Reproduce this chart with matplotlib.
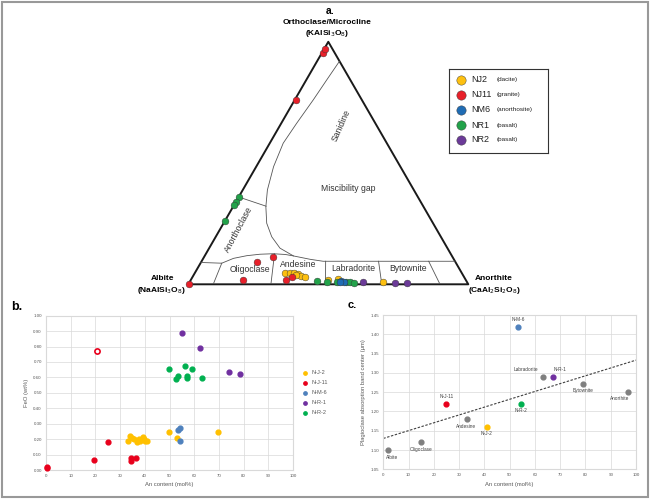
import matplotlib.pyplot as plt
import numpy as np
from matplotlib.patches import Rectangle

plt.rcParams['font.family'] = ['Liberation Sans', 'DejaVu Sans']

W, H = 650, 499

# ---- a. ternary feldspar data (An %, Or %; rest is Ab) ----
nj2_an = [32.0, 34.0, 35.5, 37.0, 38.5, 40.0, 36.5, 49.1, 52.5, 69.2]
nj2_or = [4.8, 4.8, 4.6, 4.2, 3.6, 3.0, 3.8, 1.8, 2.1, 0.8]
nj11_an = [0.2, 0.4, 0.3, 0.4, 18.5, 19.8, 24.6, 34.0, 35.5]
nj11_or = [95.5, 97.0, 76.0, 0.0, 1.8, 9.3, 11.1, 1.8, 3.0]
nm6_an = [53.9, 54.9, 53.7]
nm6_or = [1.5, 1.1, 1.1]
nr1_an = [0.0, 0.0, 0.0, 0.0, 45.4, 48.9, 52.5, 55.9, 57.2, 58.7]
nr1_or = [35.9, 34.1, 32.7, 26.2, 1.4, 1.1, 1.1, 0.8, 0.8, 0.6]
nr2_an = [62.0, 73.6, 78.0]
nr2_or = [1.1, 0.4, 0.4]

legend_names = ['NJ2', 'NJ11', 'NM6', 'NR1', 'NR2']
legend_rocks = ['(dacite)', '(granite)', '(anorthosite)', '(basalt)', '(basalt)']
tern_colors = ['#FDC010', '#E8202A', '#1F6CB4', '#22A24A', '#6B3A98']

# field boundaries (An, Or)
solvus_an = [8.0, 7.3, 6.6, 5.5, 4.8, 6.2, 8.8, 11.7, 15.4, 20.0, 25.3, 31.7, 38.4, 43.4, 90.5]
solvus_or = [92.0, 84.3, 76.0, 66.4, 58.2, 48.5, 38.9, 32.0, 25.2, 19.6, 14.9, 11.7, 10.3, 9.5, 9.5]
san_an, san_or = [0.0, 11.7], [36.0, 32.2]
ano_an = [0.0, 7.6, 10.8, 15.0, 19.4, 24.0, 28.5, 31.7]
ano_or = [9.0, 8.7, 10.7, 11.8, 12.4, 12.6, 12.3, 11.7]
dividers = [([8.9, 7.6], [0.0, 8.7]),
            ([29.5, 24.5], [0.0, 12.6]),
            ([49.0, 44.3], [0.0, 9.5]),
            ([69.1, 63.2], [0.0, 9.5]),
            ([89.9, 81.1], [0.0, 9.5])]

# ---- b. FeO vs An ----
b_names = ['N-J-2', 'N-J-11', 'N-M-6', 'N-R-1', 'N-R-2']
b_colors = ['#FFC000', '#E8001C', '#4F81BD', '#7030A0', '#00B050']
b_nj2_an = [33.2, 34.2, 35.0, 35.8, 36.7, 37.5, 38.0, 39.1, 39.6, 40.2, 41.0, 49.6, 53.1, 69.8]
b_nj2_feo = [0.19, 0.22, 0.21, 0.20, 0.18, 0.20, 0.185, 0.215, 0.20, 0.185, 0.19, 0.245, 0.205, 0.245]
b_nj11_an = [0.5, 0.6, 19.4, 25.2, 34.5, 34.6, 36.5]
b_nj11_feo = [0.02, 0.01, 0.065, 0.18, 0.075, 0.06, 0.08]
b_open_an, b_open_feo = [20.5], [0.77]
b_nm6_an = [53.4, 54.3, 54.4]
b_nm6_feo = [0.26, 0.27, 0.19]
b_nr1_an = [55.1, 62.4, 74.1, 78.4]
b_nr1_feo = [0.885, 0.79, 0.632, 0.62]
b_nr2_an = [49.7, 52.6, 53.5, 56.1, 56.9, 57.2, 59.0, 63.1]
b_nr2_feo = [0.652, 0.588, 0.607, 0.674, 0.607, 0.595, 0.655, 0.598]

# ---- c. band center vs An ----
c_ref_names = ['Albite', 'Oligoclase', 'Andesine', 'Labradorite', 'Bytownite', 'Anorthite']
c_ref_an = [2, 15, 33, 63, 79, 97]
c_ref_center = [1.10, 1.12, 1.18, 1.29, 1.27, 1.25]
c_ref_offsets = [(4, -7), (0, -7), (-1, -7), (-17, 7), (0, -6), (-9, -6)]
c_smp_names = ['N-J-11', 'N-J-2', 'N-M-6', 'N-R-2', 'N-R-1']
c_smp_an = [25, 41, 53.5, 54.5, 67]
c_smp_center = [1.22, 1.16, 1.42, 1.22, 1.29]
c_smp_colors = ['#E8001C', '#FFC000', '#4F81BD', '#00B050', '#7030A0']
c_smp_offsets = [(0, 7), (0, -7), (0, 7), (0, -7), (7, 7)]
trend_x = [0, 100]
trend_y = [1.13, 1.333]


def box(l, t, r, b):
    return [l / W, 1 - b / H, (r - l) / W, (b - t) / H]


def tern(an, orr):
    an = np.asarray(an) / 100.0
    orr = np.asarray(orr) / 100.0
    return an + orr / 2, orr * np.sqrt(3) / 2


def ftext(x, y, s, **kw):
    fig.text(x / W, 1 - y / H, s, ha='center', va='center', **kw)


fig = plt.figure(figsize=(6.5, 4.99), dpi=100)

# ---------------- a. ----------------
ax = fig.add_axes(box(188.3, 41.8, 468.3, 284.3))
ax.set_xlim(0, 1)
ax.set_ylim(0, np.sqrt(3) / 2)
ax.axis('off')
tx, ty = tern([0, 100, 0, 0], [0, 0, 100, 0])
ax.plot(tx, ty, color='#1a1a1a', lw=1.4, clip_on=False)
lc = '#555555'
for a_, o_ in [(solvus_an, solvus_or), (san_an, san_or), (ano_an, ano_or)] + dividers:
    x_, y_ = tern(a_, o_)
    ax.plot(x_, y_, color=lc, lw=0.6)

fl = dict(fontsize=6.2, color='#333333', ha='center', va='center')
ax.text(*tern(22, 65.5), 'Sanidine', rotation=66, **fl)
ax.text(*tern(6.8, 22.5), 'Anorthoclase', rotation=62, **fl)
ax.text(*tern(37.3, 39.6), 'Miscibility gap', **fl)
ax.text(*tern(19.1, 5.9), 'Oligoclase', **fl)
ax.text(*tern(35.3, 8.0), 'Andesine', **fl)
ax.text(*tern(55.6, 6.6), 'Labradorite', **fl)
ax.text(*tern(75.2, 6.4), 'Bytownite', **fl)

groups = [(nj2_an, nj2_or), (nj11_an, nj11_or), (nr1_an, nr1_or),
          (nm6_an, nm6_or), (nr2_an, nr2_or)]
gcols = [tern_colors[0], tern_colors[1], tern_colors[3], tern_colors[2], tern_colors[4]]
for (a_, o_), c in zip(groups, gcols):
    x_, y_ = tern(a_, o_)
    ax.scatter(x_, y_, s=24, color=c, edgecolors='#333333', linewidths=0.3,
               clip_on=False, zorder=3)

ftext(330, 11, 'a.', fontsize=7.5, fontweight='bold')
ftext(326.7, 22.5, 'Orthoclase/Microcline', fontsize=6, fontweight='bold')
ftext(326.7, 33.5, r'(KAlSi$_3$O$_8$)', fontsize=6, fontweight='bold')
ftext(163, 279, 'Albite', fontsize=6, fontweight='bold')
ftext(161, 290, r'(NaAlSi$_3$O$_8$)', fontsize=6, fontweight='bold')
ftext(494, 279, 'Anorthite', fontsize=6, fontweight='bold')
ftext(494, 290, r'(CaAl$_2$Si$_2$O$_8$)', fontsize=6, fontweight='bold')

# legend of a.
lg = fig.add_axes(box(449.3, 69.3, 547.7, 152.7))
lg.set_xlim(0, 98.4)
lg.set_ylim(83.4, 0)
lg.set_xticks([])
lg.set_yticks([])
for sp in lg.spines.values():
    sp.set_color('#333333')
    sp.set_linewidth(0.8)
for i, (n, r, c) in enumerate(zip(legend_names, legend_rocks, tern_colors)):
    yy = 10.7 + 15 * i
    lg.scatter([11.7], [yy], s=45, color=c, edgecolors='#333333', linewidths=0.3)
    lg.text(21.7, yy, n, fontsize=6.5, va='center', color='#222222')
    lg.text(47.4, yy, r, fontsize=4.6, va='center', color='#222222')

# ---------------- b. ----------------
gc = '#D9D9D9'
tc = '#595959'
bx = fig.add_axes(box(46, 315.7, 293, 470))
series_b = [(b_nj2_an, b_nj2_feo), (b_nj11_an, b_nj11_feo), (b_nm6_an, b_nm6_feo),
            (b_nr1_an, b_nr1_feo), (b_nr2_an, b_nr2_feo)]
for (a_, f_), n, c in zip(series_b, b_names, b_colors):
    bx.scatter(a_, f_, s=12, color=c, label=n, clip_on=False, zorder=3)
bx.scatter(b_open_an, b_open_feo, s=14, facecolors='white', edgecolors=b_colors[1],
           linewidths=1.2, zorder=3)
bx.set_xlim(0, 100)
bx.set_ylim(0, 1.0)
bx.set_xticks(np.arange(0, 101, 10))
bx.set_yticks(np.arange(0, 1.01, 0.1))
bx.set_yticklabels(['%.2f' % v for v in np.arange(0, 1.01, 0.1)])
bx.grid(True, color=gc, lw=0.5)
bx.set_axisbelow(True)
for sp in bx.spines.values():
    sp.set_color(gc)
bx.tick_params(length=0, labelsize=3.2, colors=tc, pad=3)
bx.set_xlabel('An content (mol%)', fontsize=4.2, color=tc, labelpad=3)
bx.set_ylabel('FeO (wt%)', fontsize=4.2, color=tc, labelpad=3)
bx.legend(loc='center left', bbox_to_anchor=(1.0, 0.5), frameon=False, fontsize=4,
          labelcolor=tc, handletextpad=0.1, borderaxespad=0.8, labelspacing=0.9,
          markerscale=0.7)
ftext(17, 307, 'b.', fontsize=9, fontweight='bold')

# ---------------- c. ----------------
cx = fig.add_axes(box(383.3, 315, 636, 469.3))
cx.plot(trend_x, trend_y, color='#404040', lw=0.8, ls=(0, (2.2, 1.4)))
cx.scatter(c_ref_an, c_ref_center, s=12, color='#7F7F7F', zorder=3)
for n, a_, v_, off in zip(c_ref_names, c_ref_an, c_ref_center, c_ref_offsets):
    cx.annotate(n, (a_, v_), xytext=(off[0] * 0.72, off[1] * 0.72),
                textcoords='offset points', ha='center', va='center',
                fontsize=3.4, color='#404040')
for n, a_, v_, c, off in zip(c_smp_names, c_smp_an, c_smp_center, c_smp_colors, c_smp_offsets):
    cx.scatter([a_], [v_], s=12, color=c, zorder=3)
    cx.annotate(n, (a_, v_), xytext=(off[0] * 0.72, off[1] * 0.72),
                textcoords='offset points', ha='center', va='center',
                fontsize=3.4, color='#404040')
cx.set_xlim(0, 100)
cx.set_ylim(1.05, 1.45)
cx.set_xticks(np.arange(0, 101, 10))
cx.set_yticks(np.arange(1.05, 1.451, 0.05))
cx.set_yticklabels(['%.2f' % v for v in np.arange(1.05, 1.451, 0.05)])
cx.grid(True, color=gc, lw=0.5)
cx.set_axisbelow(True)
for sp in cx.spines.values():
    sp.set_color(gc)
cx.tick_params(length=0, labelsize=3.2, colors=tc, pad=3)
cx.set_xlabel('An content (mol%)', fontsize=4.2, color=tc, labelpad=3)
cx.set_ylabel('Plagioclase absorption band center (\u03bcm)', fontsize=4.2, color=tc, labelpad=3)
ftext(352, 305, 'c.', fontsize=8, fontweight='bold')

fig.patches.append(Rectangle((2 / W, 2 / H), 646 / W, 495 / H, transform=fig.transFigure,
                             fill=False, ec='#999999', lw=1.5))

fig.savefig('out.png', dpi=100)
